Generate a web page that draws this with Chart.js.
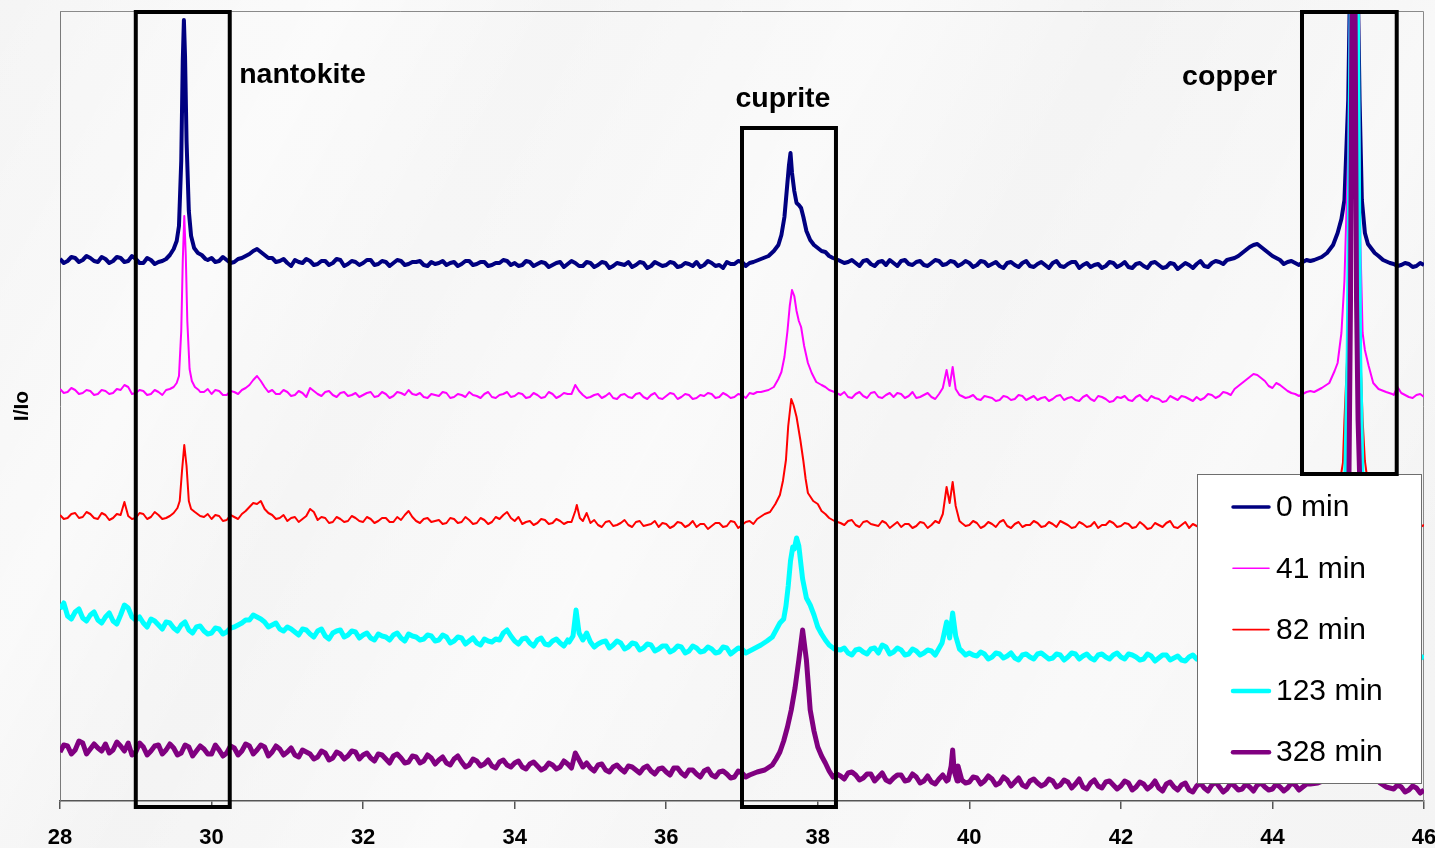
<!DOCTYPE html>
<html>
<head>
<meta charset="utf-8">
<title>XRD patterns</title>
<script src="https://cdn.jsdelivr.net/npm/chart.js@4.4.1/dist/chart.umd.min.js"></script>
<style>
  html, body { margin: 0; padding: 0; }
  body {
    width: 1435px; height: 848px; overflow: hidden;
    background-color: #f6f6f6;
    background-image:
      linear-gradient(118deg, rgba(255,255,255,0) 0%, rgba(255,255,255,0.55) 18%, rgba(255,255,255,0) 30%, rgba(255,255,255,0.5) 47%, rgba(255,255,255,0) 60%, rgba(255,255,255,0.45) 78%, rgba(255,255,255,0) 92%),
      linear-gradient(62deg, rgba(238,238,238,0.35) 0%, rgba(255,255,255,0) 40%, rgba(236,236,236,0.3) 100%);
  }
  #wrap { position: absolute; left: 0; top: 0; width: 1435px; height: 848px; }
  canvas { display: block; }
</style>
</head>
<body>
<div id="wrap"><canvas id="xrd" width="1435" height="848"></canvas></div>
<script>
// 2-theta scan positions (degrees): whole tenths and the half steps between them
const twoTheta = [
  28.0,28.1,28.2,28.3,28.4,28.5,28.6,28.7,28.8,28.9,
  29.0,29.1,29.2,29.3,29.4,29.5,29.6,29.7,29.8,29.9,
  30.0,30.1,30.2,30.3,30.4,30.5,30.6,30.7,30.8,30.9,
  31.0,31.1,31.2,31.3,31.4,31.5,31.6,31.7,31.8,31.9,
  32.0,32.1,32.2,32.3,32.4,32.5,32.6,32.7,32.8,32.9,
  33.0,33.1,33.2,33.3,33.4,33.5,33.6,33.7,33.8,33.9,
  34.0,34.1,34.2,34.3,34.4,34.5,34.6,34.7,34.8,34.9,
  35.0,35.1,35.2,35.3,35.4,35.5,35.6,35.7,35.8,35.9,
  36.0,36.1,36.2,36.3,36.4,36.5,36.6,36.7,36.8,36.9,
  37.0,37.1,37.2,37.3,37.4,37.5,37.6,37.7,37.8,37.9,
  38.0,38.1,38.2,38.3,38.4,38.5,38.6,38.7,38.8,38.9,
  39.0,39.1,39.2,39.3,39.4,39.5,39.6,39.7,39.8,39.9,
  40.0,40.1,40.2,40.3,40.4,40.5,40.6,40.7,40.8,40.9,
  41.0,41.1,41.2,41.3,41.4,41.5,41.6,41.7,41.8,41.9,
  42.0,42.1,42.2,42.3,42.4,42.5,42.6,42.7,42.8,42.9,
  43.0,43.1,43.2,43.3,43.4,43.5,43.6,43.7,43.8,43.9,
  44.0,44.1,44.2,44.3,44.4,44.5,44.6,44.7,44.8,44.9,
  45.0,45.1,45.2,45.3,45.4,45.5,45.6,45.7,45.8,45.9,
  46.0
];
const twoThetaMid = [
  28.05,28.15,28.25,28.35,28.45,28.55,28.65,28.75,28.85,28.95,
  29.05,29.15,29.25,29.35,29.45,29.55,29.65,29.75,29.85,29.95,
  30.05,30.15,30.25,30.35,30.45,30.55,30.65,30.75,30.85,30.95,
  31.05,31.15,31.25,31.35,31.45,31.55,31.65,31.75,31.85,31.95,
  32.05,32.15,32.25,32.35,32.45,32.55,32.65,32.75,32.85,32.95,
  33.05,33.15,33.25,33.35,33.45,33.55,33.65,33.75,33.85,33.95,
  34.05,34.15,34.25,34.35,34.45,34.55,34.65,34.75,34.85,34.95,
  35.05,35.15,35.25,35.35,35.45,35.55,35.65,35.75,35.85,35.95,
  36.05,36.15,36.25,36.35,36.45,36.55,36.65,36.75,36.85,36.95,
  37.05,37.15,37.25,37.35,37.45,37.55,37.65,37.75,37.85,37.95,
  38.05,38.15,38.25,38.35,38.45,38.55,38.65,38.75,38.85,38.95,
  39.05,39.15,39.25,39.35,39.45,39.55,39.65,39.75,39.85,39.95,
  40.05,40.15,40.25,40.35,40.45,40.55,40.65,40.75,40.85,40.95,
  41.05,41.15,41.25,41.35,41.45,41.55,41.65,41.75,41.85,41.95,
  42.05,42.15,42.25,42.35,42.45,42.55,42.65,42.75,42.85,42.95,
  43.05,43.15,43.25,43.35,43.45,43.55,43.65,43.75,43.85,43.95,
  44.05,44.15,44.25,44.35,44.45,44.55,44.65,44.75,44.85,44.95,
  45.05,45.15,45.25,45.35,45.45,45.55,45.65,45.75,45.85,45.95
];

const xTickValues = [28, 30, 32, 34, 36, 38, 40, 42, 44, 46];
const seriesLabels = ['0 min', '41 min', '82 min', '123 min', '328 min'];

// Offset intensity traces at the whole-tenth positions
const scan0 = [
  542,540,543,541,543,539,542,540,543,540,
  542,538,541,539,542,552,640,590,550,545,
  543,540,541,539,543,547,552,546,543,540,
  538,541,538,540,537,540,538,541,537,539,
  538,541,537,539,538,540,537,539,536,539,
  538,536,539,537,540,537,539,536,538,540,
  538,536,539,537,538,536,539,537,538,535,
  538,536,538,535,537,539,536,538,535,537,
  536,538,535,537,539,536,538,536,539,537,
  539,538,541,545,550,560,620,600,590,562,
  553,549,543,540,539,538,540,537,539,536,
  538,540,537,539,536,538,540,537,539,537,
  538,536,539,537,535,538,536,538,535,537,
  536,538,535,537,539,536,534,537,535,538,
  536,534,537,535,538,536,534,537,535,536,
  537,535,538,539,541,543,548,554,557,551,
  545,541,539,538,539,540,542,548,560,700,
  900,700,568,553,545,539,537,536,537,535,
  536
];
const scan41 = [
  412,409,411,408,410,407,410,408,411,414,
  408,410,407,409,411,414,500,430,412,409,
  407,410,406,409,411,416,425,414,411,407,
  409,406,408,413,407,409,406,408,405,408,
  406,409,405,407,405,408,411,406,404,407,
  405,408,404,406,409,405,407,404,406,409,
  405,407,404,406,404,407,405,407,416,406,
  404,407,405,403,406,404,407,404,406,403,
  405,407,404,406,403,405,407,404,406,404,
  406,408,409,411,414,429,470,500,474,438,
  419,414,409,406,404,407,405,408,404,406,
  404,407,405,403,406,404,409,431,434,405,
  404,402,405,403,401,404,402,405,403,401,
  404,402,406,403,401,404,402,405,402,400,
  403,401,404,402,405,402,400,403,405,402,
  404,403,406,405,408,412,418,424,426,420,
  413,416,410,407,407,410,412,418,430,470,
  900,500,451,418,412,409,406,408,404,406,
  404
];
const scan82 = [
  286,283,288,284,287,282,286,283,289,285,
  283,287,284,286,283,289,340,300,287,284,
  282,285,281,284,287,294,297,292,286,283,
  280,284,282,292,281,283,279,282,280,283,
  279,282,280,283,279,281,290,280,282,279,
  281,278,282,279,281,278,281,279,282,289,
  280,277,280,278,281,278,280,279,294,280,
  278,276,279,275,278,276,279,275,277,274,
  277,275,278,276,274,277,275,278,275,279,
  276,280,282,287,297,306,390,384,352,308,
  297,287,280,278,280,276,279,277,275,278,
  276,274,277,275,278,276,279,314,319,278,
  276,278,275,277,279,275,277,274,276,278,
  275,277,280,276,274,277,275,273,276,278,
  275,277,274,276,273,276,278,274,276,273,
  275,277,276,277,279,281,285,289,291,287,
  283,281,279,278,279,280,283,288,298,381,
  800,381,340,312,289,283,280,278,276,278,
  276
];
const scan123 = [
  192,185,189,183,186,181,184,180,186,193,
  181,178,182,176,179,173,176,171,174,170,
  168,172,169,174,178,181,184,179,176,172,
  174,169,172,167,170,165,168,171,166,169,
  166,163,167,164,166,163,167,164,162,165,
  161,164,160,163,160,158,162,159,161,171,
  160,162,158,161,157,160,158,161,185,161,
  159,157,160,156,158,154,157,153,156,152,
  155,151,154,150,153,150,152,149,153,150,
  152,150,156,160,164,178,228,251,222,198,
  174,161,152,151,148,151,149,152,148,154,
  149,151,147,150,148,150,152,179,188,150,
  148,145,147,144,147,145,143,146,144,147,
  145,143,146,144,147,145,143,146,144,146,
  144,147,144,142,145,143,146,143,141,144,
  142,145,143,144,145,147,150,153,154,151,
  147,145,144,143,145,146,149,153,160,200,
  700,400,200,165,156,149,146,144,145,143,
  143
];
const scan328 = [
  49,55,51,58,52,53,57,51,55,58,
  49,54,50,56,51,53,48,54,50,52,
  47,51,48,53,50,55,51,54,49,52,
  49,46,51,47,44,48,43,47,45,49,
  46,43,47,42,45,43,39,44,40,43,
  41,38,42,39,36,40,37,35,39,36,
  38,34,37,35,33,36,34,37,48,34,
  33,36,31,34,32,35,31,33,30,32,
  29,33,28,31,27,30,26,29,27,24,
  28,26,29,31,36,49,74,113,171,91,
  54,38,24,25,28,26,23,27,24,21,
  23,26,21,24,20,19,22,20,30,21,
  19,23,20,22,18,21,19,16,20,18,
  17,20,16,19,17,14,18,15,19,16,
  15,18,14,17,15,13,17,14,16,11,
  15,13,16,14,12,15,12,14,16,14,
  12,14,13,16,14,17,18,21,26,60,
  800,400,60,36,25,18,12,14,11,13,
  11
];

// Offset intensity traces at the half-step positions
const mid0 = [
  538,544,539,545,540,544,538,544,539,545,
  538,543,537,542,545,548,600,620,548,541,
  539,544,538,542,545,550,549,543,539,542,
  535,539,542,536,540,536,542,535,540,536,
  541,536,540,535,541,536,539,540,535,537,
  540,538,535,540,536,539,535,538,541,536,
  535,540,535,539,534,538,534,540,535,539,
  534,539,533,538,536,534,539,533,539,535,
  539,534,538,535,534,540,535,533,537,540,
  535,540,543,547,555,570,630,595,575,558,
  551,546,541,537,541,535,541,535,540,541,
  535,541,536,540,535,541,536,540,535,540,
  534,540,535,539,533,539,534,540,534,539,
  533,540,534,539,533,538,536,533,539,534,
  539,533,538,533,539,533,538,532,538,533,
  540,534,540,537,542,545,551,556,554,548,
  543,537,540,536,541,538,544,552,565,650,
  800,650,560,549,542,537,535,538,534,538
];
const mid41 = [
  408,413,407,411,406,411,407,412,416,407,
  411,406,411,406,409,416,520,440,409,412,
  411,406,410,407,413,421,420,409,407,411,
  405,410,404,410,405,410,404,409,406,404,
  408,404,409,403,409,406,407,408,403,406,
  409,403,407,404,406,403,409,403,407,404,
  408,403,408,403,409,403,408,407,410,403,
  406,403,408,402,407,403,408,402,408,402,
  408,402,407,402,406,408,403,408,403,407,
  403,407,410,413,418,438,490,498,455,428,
  417,412,407,409,403,409,403,409,403,408,
  408,403,409,404,408,402,410,420,420,403,
  406,401,404,400,405,401,406,401,405,403,
  400,405,401,404,400,406,400,404,399,404,
  405,400,406,400,403,399,405,401,404,400,
  401,407,403,409,406,415,421,427,423,415,
  418,413,408,405,409,411,415,425,450,600,
  700,470,435,415,410,407,414,406,403,407
];
const mid82 = [
  282,287,283,289,283,288,281,287,299,282,
  288,282,289,282,287,284,340,310,283,287,
  286,280,286,282,290,298,300,288,282,286,
  283,279,285,289,284,278,284,279,285,280,
  284,278,283,279,284,286,284,278,283,280,
  277,283,278,284,277,283,277,284,286,283,
  284,279,276,282,277,282,277,283,292,284,
  281,274,280,276,281,274,280,276,280,278,
  273,279,274,280,277,272,278,274,280,273,
  279,277,286,289,300,320,400,370,325,300,
  292,284,280,276,281,274,280,276,280,273,
  279,277,273,279,273,280,284,300,300,275,
  280,273,279,274,281,273,279,276,280,274,
  279,274,278,273,279,274,279,276,280,274,
  278,273,279,272,278,274,280,273,279,277,
  273,279,275,280,277,283,287,292,289,284,
  280,283,277,281,277,282,285,293,305,450,
  700,450,330,300,286,282,279,275,280,274
];
const mid123 = [
  198,182,192,180,189,178,188,177,196,184,
  184,174,180,172,178,170,179,168,175,167,
  173,167,173,176,181,186,182,174,178,170,
  172,166,171,164,172,162,170,164,170,163,
  168,161,165,161,168,160,165,161,166,160,
  166,158,164,157,163,156,160,162,168,165,
  157,163,155,163,156,162,155,165,175,164,
  154,159,153,160,152,158,151,157,150,155,
  149,155,148,155,149,154,148,154,147,153,
  148,154,158,162,168,185,240,256,212,185,
  167,155,150,153,146,152,147,153,156,147,
  153,146,152,146,151,146,156,175,175,146,
  146,149,142,148,143,148,141,147,142,148,
  142,147,141,148,142,147,141,147,142,148,
  142,146,141,147,140,146,141,145,140,146,
  141,146,141,146,143,148,152,155,152,149,
  144,147,142,145,143,147,151,157,170,300,
  500,300,180,160,152,147,143,146,141,145
];
const mid328 = [
  56,47,60,47,57,50,48,59,50,46,
  58,46,55,47,57,46,56,45,55,47,
  56,45,55,46,57,47,56,45,55,46,
  53,44,49,42,50,41,49,42,50,42,
  48,40,46,38,47,38,45,38,46,37,
  44,36,45,34,42,35,41,33,41,34,
  40,32,39,31,38,32,40,33,41,38,
  30,37,29,36,29,34,28,35,27,33,
  26,33,25,31,24,32,24,30,23,30,
  24,31,30,33,40,55,85,125,160,80,
  46,30,28,22,29,21,27,20,28,19,
  26,20,27,18,25,17,26,20,35,18,
  24,17,25,16,24,15,23,14,22,15,
  22,14,21,13,22,12,21,13,20,12,
  20,11,19,12,20,10,19,11,18,9,
  18,10,19,9,18,11,17,10,18,11,
  17,10,18,11,17,14,20,23,30,100,
  600,200,45,30,20,10,16,9,15,8
];

// Finer sampling across the reflections: [2theta, intensity]
const peaks0 = [
  [[29.35,540],[29.4,542],[29.45,546],[29.5,552],[29.54,560],[29.57,575],[29.6,640],[29.62,740],[29.635,781],[29.65,745],[29.67,660],[29.7,590],[29.73,565],[29.77,553],[29.82,548],[29.87,546],[29.92,542]],
  [[37.15,539],[37.25,542],[37.35,545],[37.42,550],[37.48,556],[37.52,566],[37.56,584],[37.59,610],[37.62,636],[37.64,648],[37.66,628],[37.69,610],[37.72,598],[37.75,596],[37.78,593],[37.81,584],[37.85,570],[37.9,561],[37.95,556],[38.0,553],[38.05,550],[38.1,549],[38.15,545],[38.2,543],[38.27,541],[38.35,538]],
  [[44.55,541],[44.65,544],[44.72,548],[44.8,556],[44.86,568],[44.91,582],[44.95,601],[45.0,701],[45.03,850],[45.075,1400],[45.12,850],[45.15,701],[45.18,601],[45.22,568],[45.26,557],[45.3,553],[45.35,548],[45.4,545],[45.46,541],[45.55,538]]
];
const peaks41 = [
  [[29.45,412],[29.5,414],[29.54,418],[29.57,425],[29.6,470],[29.62,540],[29.64,585],[29.66,545],[29.68,480],[29.71,432],[29.74,420],[29.78,414],[29.83,411]],
  [[37.25,409],[37.35,411],[37.42,414],[37.48,422],[37.52,429],[37.56,444],[37.6,470],[37.63,495],[37.66,511],[37.69,505],[37.72,490],[37.75,480],[37.78,474],[37.82,455],[37.87,438],[37.92,428],[37.98,419],[38.05,416],[38.1,414],[38.15,411],[38.22,409],[38.3,406]],
  [[39.6,407],[39.65,413],[39.7,431],[39.74,415],[39.78,434],[39.82,412],[39.87,406]],
  [[44.55,409],[44.65,413],[44.75,418],[44.82,430],[44.86,438],[44.91,468],[44.95,520],[45.0,650],[45.04,900],[45.075,1300],[45.12,900],[45.16,560],[45.19,468],[45.22,451],[45.27,435],[45.33,418],[45.4,412],[45.5,409],[45.58,407]]
];
const peaks82 = [
  [[28.8,286],[28.85,299],[28.9,285]],
  [[29.45,285],[29.5,288],[29.55,293],[29.58,300],[29.61,330],[29.64,356],[29.67,335],[29.7,300],[29.73,292],[29.78,289],[29.85,285]],
  [[34.75,279],[34.8,290],[34.82,296],[34.86,283],[34.9,280],[34.95,288],[35.0,278]],
  [[37.2,282],[37.3,287],[37.37,289],[37.44,297],[37.5,306],[37.54,320],[37.58,341],[37.61,375],[37.65,402],[37.68,396],[37.72,384],[37.77,361],[37.81,340],[37.84,322],[37.87,308],[37.94,300],[38.0,297],[38.05,290],[38.1,287],[38.15,283],[38.22,280],[38.3,278]],
  [[39.6,278],[39.65,287],[39.7,314],[39.74,298],[39.78,319],[39.82,295],[39.87,280]],
  [[44.5,280],[44.6,283],[44.7,288],[44.8,298],[44.88,315],[44.93,338],[44.95,381],[44.99,450],[45.02,600],[45.05,850],[45.075,1200],[45.1,850],[45.13,600],[45.16,450],[45.19,381],[45.22,340],[45.27,312],[45.33,298],[45.4,289],[45.5,283],[45.6,280]]
];
const peaks123 = [
  [[34.72,159],[34.77,165],[34.81,191],[34.85,168],[34.9,161],[34.95,168],[35.0,159]],
  [[37.15,152],[37.25,156],[37.33,160],[37.4,164],[37.45,171],[37.5,178],[37.55,182],[37.58,195],[37.61,215],[37.64,240],[37.67,254],[37.69,252],[37.72,263],[37.75,255],[37.78,235],[37.8,222],[37.85,203],[37.9,196],[37.95,186],[38.0,174],[38.05,167],[38.1,161],[38.15,156],[38.22,152],[38.3,151]],
  [[39.58,150],[39.64,158],[39.7,179],[39.74,163],[39.78,188],[39.82,165],[39.87,152]],
  [[44.5,146],[44.6,149],[44.7,153],[44.8,160],[44.88,172],[44.93,230],[44.97,330],[45.0,450],[45.04,800],[45.075,1100],[45.12,800],[45.15,450],[45.18,330],[45.22,230],[45.28,172],[45.35,160],[45.42,153],[45.5,149],[45.6,146]]
];
const peaks328 = [
  [[37.1,26],[37.2,29],[37.3,31],[37.4,36],[37.45,42],[37.5,49],[37.55,60],[37.6,74],[37.65,91],[37.7,113],[37.75,141],[37.8,171],[37.85,141],[37.9,91],[37.95,70],[38.0,54],[38.05,45],[38.1,38],[38.15,30],[38.2,24],[38.25,27]],
  [[39.72,21],[39.76,35],[39.78,51],[39.8,30],[39.84,20]],
  [[44.5,17],[44.6,18],[44.7,21],[44.8,26],[44.88,36],[44.94,60],[44.98,150],[45.01,327],[45.03,500],[45.07,1100],[45.11,500],[45.13,381],[45.15,327],[45.18,150],[45.22,60],[45.28,36],[45.35,25],[45.42,18],[45.5,14],[45.6,12]]
];

// Phase windows marked on the patterns
const phaseNames = ['nantokite', 'cuprite', 'copper'];
const phaseFrom  = [29.0, 37.0, 44.39];
const phaseTo    = [30.24, 38.24, 45.64];

// merge the scan with the finely sampled reflections
function buildTrace(values, midValues, groups) {
  let pts = twoTheta.map((a, i) => ({ x: a, y: values[i] }))
    .concat(twoThetaMid.map((a, i) => ({ x: a, y: midValues[i] })));
  for (const g of groups) {
    const lo = g[0][0], hi = g[g.length - 1][0];
    pts = pts.filter(p => p.x < lo - 1e-9 || p.x > hi + 1e-9);
    for (const [x, y] of g) pts.push({ x, y });
  }
  pts.sort((a, b) => a.x - b.x);
  return pts;
}

const FONT = '"Liberation Sans", Arial, Helvetica, sans-serif';
const colors = ['#000080', '#FF00FF', '#FF0000', '#00FFFF', '#800080'];
const widths = [4, 2, 2, 5, 5];
const legendWidths = [3.5, 1.6, 1.6, 4.5, 4.5];
const traces = [
  buildTrace(scan0, mid0, peaks0),
  buildTrace(scan41, mid41, peaks41),
  buildTrace(scan82, mid82, peaks82),
  buildTrace(scan123, mid123, peaks123),
  buildTrace(scan328, mid328, peaks328)
];

const datasets = traces.map((t, i) => ({
  label: seriesLabels[i],
  data: t,
  borderColor: colors[i],
  backgroundColor: colors[i],
  borderWidth: widths[i],
  pointRadius: 0,
  tension: 0,
  fill: false,
  borderJoinStyle: 'round',
  order: seriesLabels.length - 1 - i
}));

// plot frame on the top and right sides
const framePlugin = {
  id: 'frame',
  beforeDatasetsDraw(chart) {
    const { ctx, chartArea: a } = chart;
    ctx.save();
    ctx.strokeStyle = '#8a8a8a';
    ctx.lineWidth = 1;
    ctx.beginPath();
    ctx.moveTo(a.left, a.top + 0.5);
    ctx.lineTo(a.right - 0.5, a.top + 0.5);
    ctx.lineTo(a.right - 0.5, a.bottom);
    ctx.stroke();
    ctx.restore();
  }
};

// legend box drawn over the traces, then the phase boxes and names
const overlayPlugin = {
  id: 'overlay',
  afterDraw(chart) {
    const { ctx, chartArea: a, scales: { x, y } } = chart;
    ctx.save();

    // legend
    const lx = a.right - 227, ly = a.bottom - 327, lw = 224, lh = 309;
    ctx.fillStyle = '#ffffff';
    ctx.fillRect(lx, ly, lw, lh);
    ctx.strokeStyle = '#6e6e6e';
    ctx.lineWidth = 1;
    ctx.strokeRect(lx + 0.5, ly + 0.5, lw, lh);
    ctx.font = '30px ' + FONT;
    ctx.fillStyle = '#000';
    ctx.textBaseline = 'middle';
    ctx.textAlign = 'left';
    seriesLabels.forEach((lab, i) => {
      const cy = ly + 33 + i * 61.3;
      ctx.strokeStyle = colors[i];
      ctx.lineWidth = legendWidths[i];
      ctx.lineCap = 'round';
      ctx.beginPath();
      ctx.moveTo(lx + 36, cy);
      ctx.lineTo(lx + 72, cy);
      ctx.stroke();
      ctx.fillText(lab, lx + 79, cy + 1);
    });

    // phase windows
    const tops = [y.max - 1, 673, y.max - 1];
    const bottoms = [-6, -6, 327];
    ctx.strokeStyle = '#000';
    ctx.lineWidth = 4;
    ctx.lineCap = 'butt';
    ctx.lineJoin = 'miter';
    phaseNames.forEach((n, i) => {
      const x0 = x.getPixelForValue(phaseFrom[i]);
      const x1 = x.getPixelForValue(phaseTo[i]);
      const y0 = y.getPixelForValue(tops[i]);
      const y1 = y.getPixelForValue(bottoms[i]);
      ctx.strokeRect(x0, y0, x1 - x0, y1 - y0);
    });

    // phase names
    const nameX = [31.2, 37.54, 43.435];
    const nameY = [718, 694, 716];
    ctx.font = 'bold 28.5px ' + FONT;
    ctx.fillStyle = '#000';
    ctx.textAlign = 'center';
    ctx.textBaseline = 'alphabetic';
    phaseNames.forEach((n, i) => {
      ctx.fillText(n, x.getPixelForValue(nameX[i]), y.getPixelForValue(nameY[i]));
    });

    ctx.restore();
  }
};

new Chart(document.getElementById('xrd'), {
  type: 'line',
  data: { datasets },
  options: {
    responsive: false,
    animation: false,
    devicePixelRatio: 1,
    layout: { padding: { top: 11, right: 11, left: 0, bottom: 0 } },
    plugins: { legend: { display: false }, tooltip: { enabled: false } },
    scales: {
      x: {
        type: 'linear',
        min: 28,
        max: 46,
        afterBuildTicks(scale) { scale.ticks = xTickValues.map(v => ({ value: v })); },
        afterFit(scale) { scale.height = 47; scale.paddingLeft = 0; scale.paddingRight = 0; },
        ticks: {
          color: '#000',
          font: { family: FONT, size: 22, weight: 'bold' },
          padding: 16,
          maxRotation: 0,
          autoSkip: false,
          callback: v => String(v)
        },
        grid: { display: true, drawOnChartArea: false, drawTicks: true, tickLength: 8, color: '#555', lineWidth: 1.5 },
        border: { display: true, color: '#555', width: 1.5 }
      },
      y: {
        min: 0,
        max: 790,
        afterFit(scale) { scale.width = 60; },
        ticks: { display: false },
        grid: { display: false },
        border: { display: true, color: '#7a7a7a', width: 1 },
        title: {
          display: true,
          text: 'I/Io',
          color: '#000',
          font: { family: FONT, size: 21, weight: 'bold' },
          padding: { top: 10, bottom: 0 }
        }
      }
    }
  },
  plugins: [framePlugin, overlayPlugin]
});
</script>
</body>
</html>
